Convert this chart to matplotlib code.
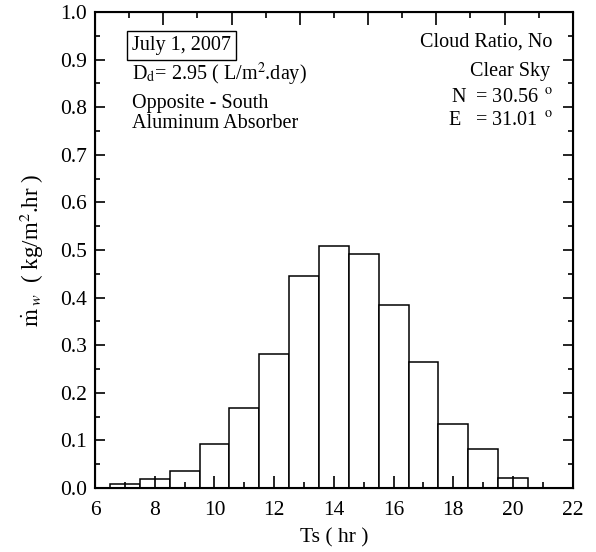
import matplotlib
matplotlib.use("Agg")
import matplotlib.pyplot as plt
from matplotlib.ticker import MultipleLocator

plt.rcParams["font.family"] = ["Liberation Serif", "DejaVu Serif"]
plt.rcParams["mathtext.fontset"] = "stix"

# --- dane ---
hours = [7, 8, 9, 10, 11, 12, 13, 14, 15, 16, 17, 18, 19, 20]
mw = [0.008, 0.019, 0.035, 0.092, 0.168, 0.281, 0.446, 0.509, 0.491,
      0.385, 0.265, 0.134, 0.081, 0.021]

fig = plt.figure(figsize=(5.96, 5.52), dpi=100)
ax = fig.add_axes([0.1594, 0.1159, 0.8016, 0.8623])

ax.bar(hours, mw, width=1.0, color="white", edgecolor="black", linewidth=1.1)

ax.set_xlim(6, 22)
ax.set_ylim(0, 1.0)
ax.xaxis.set_major_locator(MultipleLocator(2))
ax.xaxis.set_minor_locator(MultipleLocator(1))
ax.yaxis.set_major_locator(MultipleLocator(0.1))
ax.yaxis.set_minor_locator(MultipleLocator(0.05))
ax.yaxis.set_major_formatter(plt.FuncFormatter(lambda v, p: f"{v:.1f}"))

ax.tick_params(axis="x", which="major", direction="in", length=9, width=1.2,
               labelsize=15.5, pad=9)
ax.tick_params(axis="x", which="minor", direction="in", length=4.5, width=1.2)
ax.tick_params(axis="y", which="major", direction="in", length=7, width=1.2,
               labelsize=15.5, right=True, pad=6)
ax.tick_params(axis="y", which="minor", direction="in", length=3.6, width=1.2,
               right=True)
for s in ax.spines.values():
    s.set_linewidth(1.5)

# --- górna oś ---
top = ax.twiny()
top.set_xlim(0, 14)
top.xaxis.set_major_locator(MultipleLocator(2))
top.xaxis.set_minor_locator(MultipleLocator(1))
top.tick_params(axis="x", which="major", direction="in", length=9, width=1.2,
                labeltop=False)
top.tick_params(axis="x", which="minor", direction="in", length=4.5, width=1.2)

ax.set_xlabel("Ts ( hr )", fontsize=15.5, labelpad=6)
ax.set_ylabel(r"$\dot{\mathrm{m}}_{\;w}$  ( kg/m$^2$.hr )", fontsize=16.5,
              labelpad=10)

fs = 14.5
ax.text(0.077, 0.929, "July 1, 2007", transform=ax.transAxes, fontsize=fs,
        va="center", ha="left",
        bbox=dict(boxstyle="square,pad=0.25", fc="white", ec="black", lw=1.0))
ax.text(0.077, 0.868, r"D$_{\mathrm{d}}$= 2.95 ( L/m$^2$.day)",
        transform=ax.transAxes, fontsize=fs, va="center", ha="left")
ax.text(0.077, 0.807, "Opposite - South", transform=ax.transAxes,
        fontsize=fs, va="center", ha="left")
ax.text(0.077, 0.765, "Aluminum Absorber", transform=ax.transAxes,
        fontsize=fs, va="center", ha="left")

ax.text(0.958, 0.937, "Cloud Ratio, No", transform=ax.transAxes,
        fontsize=fs, va="center", ha="right")
ax.text(0.953, 0.876, "Clear Sky", transform=ax.transAxes,
        fontsize=fs, va="center", ha="right")
ax.text(0.958, 0.819, r"N  = 30.56 $^{\,\mathrm{o}}$", transform=ax.transAxes,
        fontsize=fs, va="center", ha="right")
ax.text(0.958, 0.771, r"E   = 31.01 $^{\,\mathrm{o}}$", transform=ax.transAxes,
        fontsize=fs, va="center", ha="right")

fig.savefig("out.png", dpi=100)
